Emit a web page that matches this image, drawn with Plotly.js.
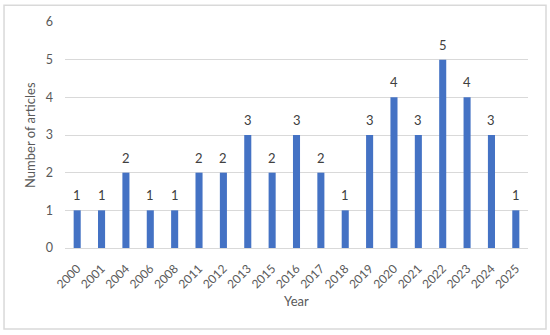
<!DOCTYPE html>
<html><head><meta charset="utf-8">
<script src="https://cdn.plot.ly/plotly-3.0.1.min.js"></script>
<style>html,body{margin:0;padding:0;background:#fff}#c{width:550px;height:335px}</style>
</head><body><div id="c"></div>
<script>
const years = ["2000","2001","2004","2006","2008","2011","2012","2013","2015","2016","2017","2018","2019","2020","2021","2022","2023","2024","2025"];
const articles = [1,1,2,1,1,2,2,3,2,3,2,1,3,4,3,5,4,3,1];
const yTicks = [0,1,2,3,4,5,6];

const font = "Lato, 'Open Sans', sans-serif";
const labels = years.map((y, i) => ({
  x: i, y: articles[i], xref: 'x', yref: 'y', text: String(articles[i]),
  showarrow: false, yanchor: 'bottom', yshift: 5,
  font: {family: font, size: 13, color: '#404040'}
}));
labels.push({text: 'Year', xref: 'paper', yref: 'paper', x: 0.5, y: -0.235, showarrow: false,
  xanchor: 'center', yanchor: 'middle', font: {family: font, size: 13, color: '#595959'}});
labels.push({text: 'Number of articles', xref: 'paper', yref: 'paper', x: -0.0756, y: 0.5, showarrow: false,
  textangle: -90, xanchor: 'center', yanchor: 'middle', font: {family: font, size: 13, color: '#595959'}});

Plotly.newPlot('c', [{
  type: 'bar', x: years, y: articles,
  marker: {color: '#4472C4'}, hoverinfo: 'none'
}], {
  width: 550, height: 335,
  margin: {l: 65, r: 22, t: 22, b: 87},
  paper_bgcolor: '#fff', plot_bgcolor: '#fff',
  bargap: 0.71,
  font: {family: font, color: '#595959', size: 12},
  xaxis: {type: 'category', range: [-0.5, years.length - 0.5], tickangle: -45, tickfont: {size: 12, color: '#595959'},
    showgrid: false, showline: true, linecolor: '#d9d9d9', linewidth: 1, ticks: '', ticklabelstandoff: 8,
    automargin: false},
  yaxis: {range: [0, 6], tickvals: yTicks, showgrid: true, gridcolor: '#d9d9d9', zeroline: false,
    tickfont: {size: 12.5, color: '#595959'}, ticks: '', ticklabelstandoff: 11, automargin: false},
  annotations: labels,
  shapes: [{type: 'rect', xref: 'paper', yref: 'paper', x0: -0.1317, x1: 1.0389, y0: -0.3585, y1: 1.0742,
    line: {color: '#d9d9d9', width: 1.5}}],
  showlegend: false
}, {displayModeBar: false, staticPlot: true});
</script></body></html>
